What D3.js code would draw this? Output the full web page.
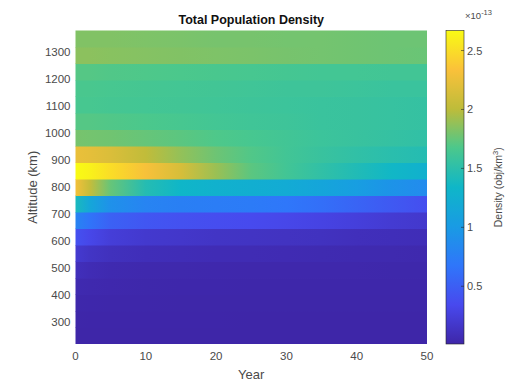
<!DOCTYPE html>
<html><head><meta charset="utf-8">
<script src="https://cdn.jsdelivr.net/npm/d3@7/dist/d3.min.js"></script>
<style>
body{margin:0;background:#fff;}
svg{display:block;font-family:"Liberation Sans",Arial,Helvetica,sans-serif;}
</style>
</head><body>
<svg id="chart" width="524" height="382"></svg>
<script>
// ---------------- data ----------------
const years = [0, 2, 5, 10, 15, 20, 25, 30, 35, 40, 45, 50];
// altitude bin centres (km), bottom to top
const altitudes = [250, 311.1, 372.2, 433.3, 494.4, 555.6, 616.7, 677.8, 738.9, 800,
                   861.1, 922.2, 983.3, 1044.4, 1105.6, 1166.7, 1227.8, 1288.9, 1350];
// density (x1e-13 obj/km^3), one row per altitude, one column per year
const density = [
  [0.010,0.010,0.010,0.010,0.010,0.010,0.010,0.010,0.010,0.010,0.010,0.010], // 250
  [0.015,0.014,0.014,0.013,0.013,0.013,0.012,0.012,0.012,0.012,0.012,0.012], // 311
  [0.025,0.022,0.020,0.018,0.017,0.016,0.016,0.015,0.015,0.015,0.015,0.015], // 372
  [0.050,0.040,0.032,0.026,0.023,0.022,0.021,0.020,0.020,0.020,0.020,0.020], // 433
  [0.100,0.070,0.050,0.040,0.035,0.032,0.030,0.030,0.028,0.027,0.026,0.025], // 494
  [0.200,0.150,0.110,0.090,0.080,0.070,0.065,0.060,0.055,0.050,0.045,0.040], // 556
  [0.400,0.320,0.240,0.190,0.170,0.150,0.140,0.130,0.120,0.100,0.090,0.080], // 617
  [0.800,0.660,0.520,0.440,0.400,0.370,0.350,0.320,0.290,0.250,0.210,0.180], // 678
  [1.400,1.150,0.920,0.800,0.760,0.740,0.720,0.680,0.620,0.540,0.460,0.380], // 739
  [2.300,2.050,1.750,1.460,1.340,1.280,1.240,1.200,1.130,1.040,0.940,0.860], // 800
  [2.670,2.620,2.500,2.320,2.140,1.900,1.720,1.620,1.530,1.440,1.350,1.270], // 861
  [2.250,2.220,2.160,2.020,1.880,1.770,1.690,1.620,1.570,1.530,1.490,1.460], // 922
  [1.800,1.790,1.780,1.750,1.720,1.680,1.650,1.620,1.590,1.570,1.550,1.530], // 983
  [1.700,1.700,1.690,1.670,1.650,1.630,1.610,1.600,1.580,1.570,1.560,1.550], // 1044
  [1.650,1.650,1.640,1.630,1.620,1.610,1.600,1.590,1.580,1.570,1.560,1.550], // 1106
  [1.660,1.660,1.650,1.640,1.630,1.620,1.610,1.600,1.600,1.590,1.580,1.580], // 1167
  [1.700,1.700,1.690,1.680,1.670,1.660,1.650,1.640,1.630,1.630,1.620,1.620], // 1228
  [1.860,1.860,1.850,1.840,1.830,1.820,1.810,1.800,1.790,1.780,1.770,1.760], // 1289
  [1.830,1.830,1.830,1.820,1.810,1.800,1.800,1.790,1.790,1.780,1.770,1.770]  // 1350
];
const xTicks = [0, 10, 20, 30, 40, 50];
const yTicks = [300, 400, 500, 600, 700, 800, 900, 1000, 1100, 1200, 1300];
const cbTicks = [0.5, 1, 1.5, 2, 2.5];
const titleText = "Total Population Density";
const xLabel = "Year";
const yLabel = "Altitude (km)";
const cbLabel = "Density (obj/km";
const cbExponent = "-13";

// parula colormap anchors (style)
const parula = ["#3e26a8","#4849ee","#2f76fa","#199be4","#0fb6c8","#4bc88c","#bebc3a","#fac13a","#f9fb14"];

// ---------------- layout ----------------
const svg = d3.select("#chart");
const L = 75.5, R = 427, T = 30.5, B = 344;
const step0 = altitudes[1] - altitudes[0];
const stepN = altitudes[altitudes.length-1] - altitudes[altitudes.length-2];
const yLo = altitudes[0] - step0/2, yHi = altitudes[altitudes.length-1] + stepN/2;

const x = d3.scaleLinear().domain([years[0], years[years.length-1]]).range([L, R]);
const y = d3.scaleLinear().domain([yLo, yHi]).range([B, T]);
const allVals = density.flat();
const vExt = d3.extent(allVals);
const interp = d3.piecewise(d3.interpolateRgb, parula);
const color = d3.scaleSequential(interp).domain(vExt);

const defs = svg.append("defs");

// bands
altitudes.forEach((a, i) => {
  const lo = i === 0 ? yLo : (altitudes[i-1] + a)/2;
  const hi = i === altitudes.length-1 ? yHi : (altitudes[i+1] + a)/2;
  const g = defs.append("linearGradient").attr("id", "band"+i)
    .attr("x1", 0).attr("x2", 1).attr("y1", 0).attr("y2", 0);
  years.forEach((yr, j) => {
    g.append("stop")
      .attr("offset", (x(yr) - x(years[0])) / (x(years[years.length-1]) - x(years[0])))
      .attr("stop-color", color(density[i][j]));
  });
  svg.append("rect")
    .attr("x", x(years[0]))
    .attr("width", x(years[years.length-1]) - x(years[0]))
    .attr("y", y(hi))
    .attr("height", y(lo) - y(hi) + (i === 0 ? 0 : 0.5))
    .attr("fill", "url(#band"+i+")");
});

// axes text
const tickColor = "#4a4a4a";
svg.append("g").selectAll("text").data(xTicks).join("text")
  .attr("x", d => x(d)).attr("y", 360)
  .attr("text-anchor", "middle").attr("font-size", 11.5).attr("fill", tickColor)
  .text(d => d);
svg.append("g").selectAll("text").data(yTicks).join("text")
  .attr("x", 70.5).attr("y", d => y(d) + 4)
  .attr("text-anchor", "end").attr("font-size", 11.5).attr("fill", tickColor)
  .text(d => d);
svg.append("text").attr("x", (L+R)/2).attr("y", 379)
  .attr("text-anchor", "middle").attr("font-size", 13).attr("fill", tickColor).text(xLabel);
svg.append("text").attr("transform", `translate(37,${(T+B)/2}) rotate(-90)`)
  .attr("text-anchor", "middle").attr("font-size", 13).attr("fill", tickColor).text(yLabel);
svg.append("text").attr("x", (L+R)/2).attr("y", 24)
  .attr("text-anchor", "middle").attr("font-size", 12.5).attr("font-weight", "bold")
  .attr("fill", "#111").text(titleText);

// colorbar
const cbX = 446, cbW = 18;
const cb = d3.scaleLinear().domain(vExt).range([B, T]);
const cg = defs.append("linearGradient").attr("id", "cbgrad")
  .attr("x1", 0).attr("x2", 0).attr("y1", 1).attr("y2", 0);
d3.range(0, 1.0001, 1/40).forEach(t => {
  cg.append("stop").attr("offset", t)
    .attr("stop-color", color(vExt[0] + t*(vExt[1]-vExt[0])));
});
svg.append("rect").attr("x", cbX).attr("y", T).attr("width", cbW).attr("height", B-T)
  .attr("fill", "url(#cbgrad)").attr("stroke", "#262626").attr("stroke-width", 0.6);
svg.append("g").selectAll("line").data(cbTicks).join("line")
  .attr("x1", cbX+cbW-3).attr("x2", cbX+cbW)
  .attr("y1", d => cb(d)).attr("y2", d => cb(d))
  .attr("stroke", "#262626").attr("stroke-width", 0.6);
svg.append("g").selectAll("text").data(cbTicks).join("text")
  .attr("x", cbX+cbW+3).attr("y", d => cb(d) + 4)
  .attr("font-size", 11).attr("fill", tickColor).text(d => d);
const ex = svg.append("text").attr("x", 465).attr("y", 19)
  .attr("font-size", 9.5).attr("fill", tickColor);
ex.append("tspan").text("\u00d710");
ex.append("tspan").attr("dy", -4).attr("font-size", 7.5).text(cbExponent);
const cl = svg.append("text").attr("transform", `translate(502,${(T+B)/2}) rotate(-90)`)
  .attr("text-anchor", "middle").attr("font-size", 10.5).attr("fill", tickColor);
cl.append("tspan").text(cbLabel);
cl.append("tspan").attr("dy", -4).attr("font-size", 7.5).text("3");
cl.append("tspan").attr("dy", 4).text(")");
</script>
</body></html>
